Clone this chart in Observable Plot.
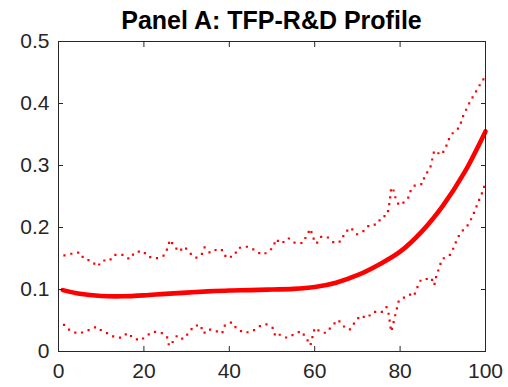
<!DOCTYPE html>
<html>
<head>
<meta charset="utf-8">
<script src="https://cdn.jsdelivr.net/npm/d3@7"></script>
<script src="https://cdn.jsdelivr.net/npm/@observablehq/plot@0.6"></script>
<style>
  body { margin: 0; background: #fff; }
  #chart { position: relative; width: 508px; height: 387px; font-family: "Liberation Sans", Arial, Helvetica, sans-serif; }
  #title { position: absolute; left: 58px; width: 427px; top: 5px; text-align: center; font-weight: bold; font-size: 25px; color: #000; line-height: 30px; white-space: nowrap; }
  #chart svg { position: absolute; left: 0; top: 0; }
</style>
</head>
<body>
<div id="chart"><div id="title">Panel A: TFP-R&amp;D Profile</div></div>
<script>
// Fitted TFP–R&D profile (solid) over the 1–100 range
const profileX = [1, 5, 10, 15, 20, 25, 30, 35, 40, 45, 50, 55, 60, 65, 70, 75, 80, 85, 90, 95, 100];
const profileY = [0.099, 0.093, 0.0895, 0.089, 0.0905, 0.093, 0.095, 0.097, 0.0985, 0.099, 0.100, 0.101, 0.104, 0.111, 0.123, 0.140, 0.161, 0.193, 0.235, 0.288, 0.355];

// Upper confidence band (dotted)
const upperX = [1.4, 3.2, 5.0, 5.9, 7.7, 9.1, 10.4, 11.9, 13.1, 15.1, 16.6, 17.9, 19.8, 21.0, 22.8, 24.7, 25.5, 26.1, 26.9, 28.2,
  29.5, 30.7, 32.2, 33.5, 34.2, 35.5, 37.4, 38.5, 39.3, 41.1, 42.1, 44.2, 45.8, 47.6, 49.0, 50.3, 50.9, 52.2, 53.8, 55.4,
  57.2, 58.2, 59.0, 59.6, 60.4, 61.5, 62.9, 64.6, 66.2, 67.0, 68.4, 69.9, 71.4, 72.8, 74.6, 75.7, 77.0, 77.4, 77.7, 77.9,
  78.3, 78.8, 79.7, 80.5, 81.9, 82.6, 83.6, 85.2, 85.8, 87.0, 87.5, 88.0, 89.6, 90.6, 91.3, 92.4, 94.0, 94.5, 95.4, 96.3,
  97.4, 98.4, 99.5];
const upperY = [0.155, 0.158, 0.160, 0.150, 0.146, 0.137, 0.147, 0.146, 0.156, 0.156, 0.149, 0.160, 0.162, 0.153, 0.150, 0.155, 0.166, 0.180, 0.172, 0.161,
  0.169, 0.159, 0.151, 0.156, 0.168, 0.159, 0.166, 0.163, 0.151, 0.154, 0.167, 0.169, 0.164, 0.156, 0.160, 0.168, 0.181, 0.174, 0.183, 0.175,
  0.175, 0.188, 0.198, 0.184, 0.174, 0.185, 0.185, 0.175, 0.178, 0.191, 0.200, 0.189, 0.194, 0.204, 0.205, 0.217, 0.220, 0.235, 0.250, 0.264,
  0.264, 0.250, 0.236, 0.238, 0.248, 0.262, 0.269, 0.270, 0.284, 0.295, 0.309, 0.324, 0.317, 0.327, 0.341, 0.353, 0.362, 0.376, 0.389, 0.402,
  0.415, 0.427, 0.439];

// Lower confidence band (dotted)
const lowerX = [1.3, 2.8, 4.6, 5.7, 7.2, 8.9, 10.2, 11.6, 12.9, 14.8, 16.2, 17.6, 19.3, 20.7, 22.3, 24.1, 25.4, 25.9, 26.6, 27.8,
  29.1, 30.4, 31.7, 33.2, 34.0, 35.0, 36.9, 38.3, 39.0, 40.6, 41.8, 43.6, 45.5, 47.2, 48.6, 50.2, 50.8, 51.8, 53.5, 55.0,
  56.8, 57.9, 59.0, 59.5, 60.0, 61.5, 62.7, 64.0, 65.5, 66.7, 68.2, 69.4, 70.7, 72.2, 73.8, 75.6, 76.8, 77.3, 77.6, 77.9,
  78.2, 78.7, 79.2, 79.7, 80.9, 82.2, 83.2, 84.0, 84.9, 86.3, 87.3, 88.0, 88.5, 89.2, 89.8, 91.6, 92.6, 93.3, 94.3, 95.6,
  96.6, 97.5, 98.3, 99.1, 99.8];
const lowerY = [0.043, 0.033, 0.029, 0.031, 0.035, 0.040, 0.033, 0.029, 0.024, 0.022, 0.030, 0.021, 0.018, 0.026, 0.032, 0.030, 0.024, 0.009, 0.014, 0.026,
  0.020, 0.029, 0.041, 0.043, 0.029, 0.036, 0.033, 0.029, 0.043, 0.047, 0.036, 0.030, 0.033, 0.041, 0.044, 0.038, 0.024, 0.027, 0.022, 0.027,
  0.033, 0.023, 0.010, 0.024, 0.038, 0.031, 0.030, 0.041, 0.051, 0.041, 0.035, 0.047, 0.058, 0.054, 0.064, 0.063, 0.072, 0.061, 0.047, 0.032,
  0.039, 0.054, 0.068, 0.082, 0.087, 0.092, 0.089, 0.103, 0.116, 0.117, 0.119, 0.107, 0.122, 0.136, 0.149, 0.155, 0.168, 0.181, 0.193, 0.201,
  0.213, 0.227, 0.241, 0.254, 0.268];

const xTicks = [0, 20, 40, 60, 80, 100];
const yTicks = [0, 0.1, 0.2, 0.3, 0.4, 0.5];

const toRows = (xs, ys) => xs.map((x, i) => ({x, y: ys[i]}));
const profile = toRows(profileX, profileY);
const upper = toRows(upperX, upperY);
const lower = toRows(lowerX, lowerY);

const axisColor = "#262626";
const dotted = {x: "x", y: "y", stroke: "#ff0000", strokeWidth: 2.2, strokeDasharray: "0,7", strokeLinecap: "square"};

const chart = Plot.plot({
  width: 508,
  height: 387,
  marginTop: 41,
  marginRight: 23,
  marginBottom: 36,
  marginLeft: 58,
  style: {fontFamily: "'Liberation Sans', Arial, Helvetica, sans-serif", fontSize: "21px", color: axisColor, background: "transparent", overflow: "visible"},
  x: {domain: [0, 100]},
  y: {domain: [0, 0.5]},
  marks: [
    Plot.line(upper, dotted),
    Plot.line(lower, dotted),
    Plot.line(profile, {x: "x", y: "y", stroke: "#ff0000", strokeWidth: 4.6, curve: "catmull-rom"}),
    Plot.frame({stroke: axisColor, strokeWidth: 1}),
    Plot.axisX({anchor: "bottom", label: null, ticks: xTicks, tickSize: -5, tickPadding: 17, tickFormat: d => String(d), stroke: axisColor, fill: axisColor}),
    Plot.axisX({anchor: "top", label: null, ticks: xTicks, tickSize: -5, tickFormat: () => "", stroke: axisColor}),
    Plot.axisY({anchor: "left", label: null, ticks: yTicks, tickSize: -5, tickPadding: 14, tickFormat: d => String(d), stroke: axisColor, fill: axisColor}),
    Plot.axisY({anchor: "right", label: null, ticks: yTicks, tickSize: -5, tickFormat: () => "", stroke: axisColor})
  ]
});

document.getElementById("chart").appendChild(chart);
</script>
</body>
</html>
